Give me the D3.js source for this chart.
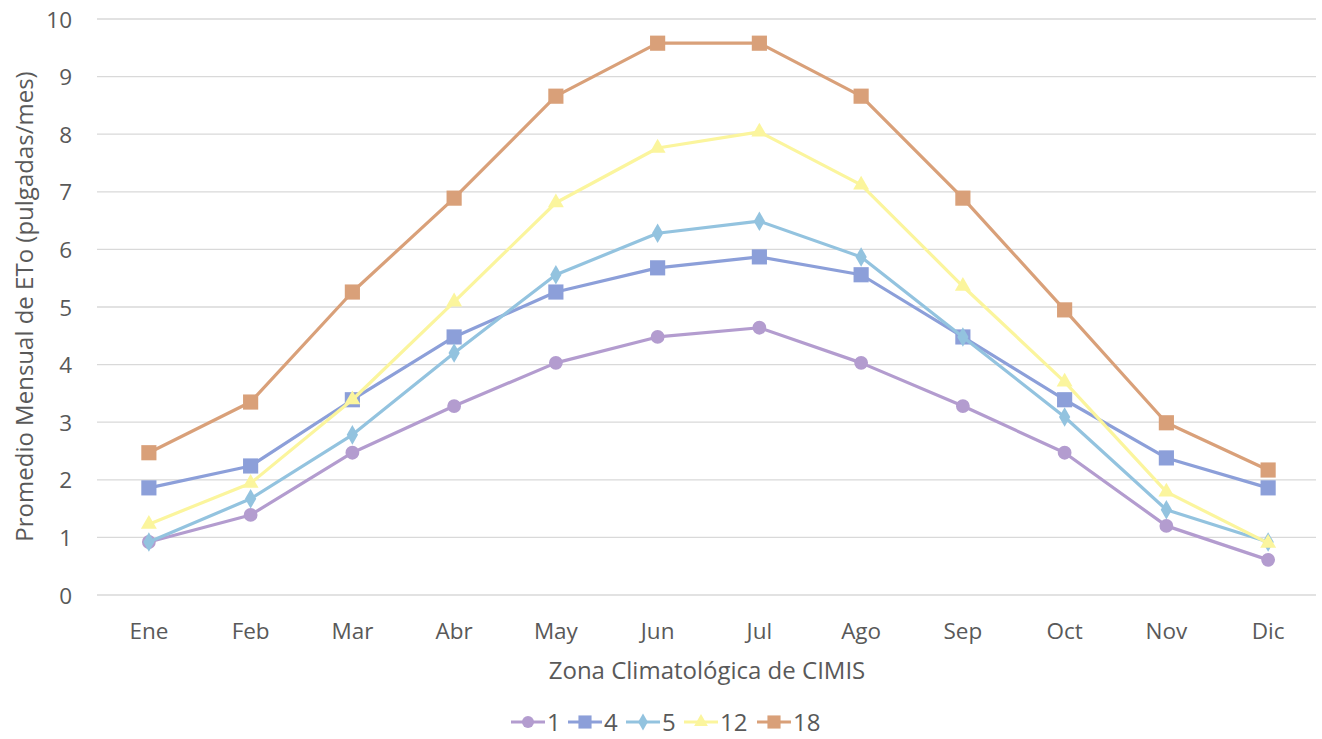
<!DOCTYPE html>
<html><head><meta charset="utf-8">
<script src="https://cdn.jsdelivr.net/npm/d3@7"></script>
<style>
body{margin:0;background:#fff;}
text{font-family:"Open Sans","Noto Sans",sans-serif;fill:#595959;}
</style></head>
<body><svg id="c" width="1322" height="739"></svg>
<script>
const months = ["Ene","Feb","Mar","Abr","May","Jun","Jul","Ago","Sep","Oct","Nov","Dic"];
const seriesNames = ["1","4","5","12","18"];
const zone1  = [0.92,1.39,2.47,3.28,4.03,4.48,4.64,4.03,3.28,2.47,1.20,0.61];
const zone4  = [1.86,2.24,3.39,4.48,5.26,5.68,5.87,5.56,4.48,3.39,2.38,1.86];
const zone5  = [0.92,1.67,2.78,4.20,5.56,6.28,6.49,5.87,4.48,3.09,1.48,0.92];
const zone12 = [1.23,1.94,3.39,5.09,6.81,7.76,8.04,7.12,5.36,3.70,1.79,0.90];
const zone18 = [2.47,3.35,5.26,6.89,8.66,9.58,9.58,8.66,6.89,4.95,2.99,2.17];
const yTicks = [0,1,2,3,4,5,6,7,8,9,10];
const colors = ["#b39ccf","#8c9fd9","#93c3df","#fbf59d","#d9a079"];
const shapes = [d3.symbolCircle,d3.symbolSquare,d3.symbolDiamond,d3.symbolTriangle,d3.symbolSquare];
const sizes = [150,230,110,110,230];
const data = [zone1,zone4,zone5,zone12,zone18];

const svg = d3.select("#c");
const m = {l:98,r:1319,t:19,b:595};
const x = d3.scaleBand().domain(months).range([m.l,m.r]);
const y = d3.scaleLinear().domain([0,10]).range([m.b,m.t]);

// gridlines
svg.append("g").selectAll("line").data(yTicks).join("line")
  .attr("x1",m.l-1).attr("x2",m.r-3).attr("y1",d=>y(d)).attr("y2",d=>y(d))
  .attr("stroke","#d9d9d9").attr("stroke-width",1.3);

// y axis labels
const ya = svg.append("g").attr("transform",`translate(${m.l-26},0)`)
  .call(d3.axisLeft(y).tickValues(yTicks).tickSize(0).tickPadding(0));
ya.select(".domain").remove();
ya.selectAll("text").style("font-size","22.5px").attr("fill","#595959").attr("dy","0.36em");

// x axis labels
const xa = svg.append("g").attr("transform",`translate(0,${m.b+21})`)
  .call(d3.axisBottom(x).tickSize(0).tickPadding(0));
xa.select(".domain").remove();
xa.selectAll("text").style("font-size","22.5px").attr("fill","#595959").attr("dy","1em");

// axis titles
svg.append("text").attr("x",707).attr("y",679).attr("text-anchor","middle")
  .style("font-size","24px").text("Zona Climatológica de CIMIS");
svg.append("text").attr("transform",`translate(33,${(68+545)/2}) rotate(-90)`)
  .attr("text-anchor","middle").style("font-size","24px").text("Promedio Mensual de ETo (pulgadas/mes)");

const line = d3.line().x((d,i)=>x(months[i])+x.bandwidth()/2).y(d=>y(d));
data.forEach((vals,k)=>{
  const g = svg.append("g");
  g.append("path").datum(vals).attr("d",line).attr("fill","none")
    .attr("stroke",colors[k]).attr("stroke-width",3.2).attr("stroke-linejoin","round");
  g.selectAll("path.pt").data(vals).join("path").attr("class","pt")
    .attr("transform",(d,i)=>`translate(${x(months[i])+x.bandwidth()/2},${y(d)})`)
    .attr("d",d3.symbol().type(shapes[k]).size(sizes[k])).attr("fill",colors[k]);
});

// legend
const lx = [511,568,626,684,757];
const lg = svg.append("g");
seriesNames.forEach((n,k)=>{
  const g = lg.append("g").attr("transform",`translate(${lx[k]},722)`);
  g.append("line").attr("x1",0).attr("x2",34).attr("stroke",colors[k]).attr("stroke-width",3.2);
  g.append("path").attr("transform","translate(17,0)")
    .attr("d",d3.symbol().type(shapes[k]).size(sizes[k]*0.75)).attr("fill",colors[k]);
  g.append("text").attr("x",36).attr("dy","0.36em").style("font-size","24px").text(n);
});
</script></body></html>
